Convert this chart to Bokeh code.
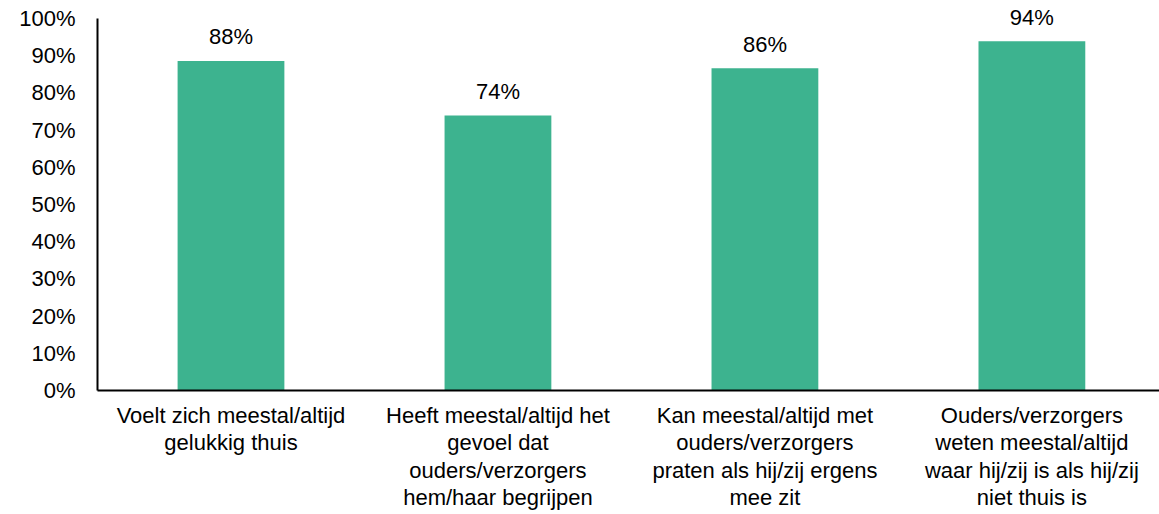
from bokeh.plotting import figure
from bokeh.models import ColumnDataSource, Range1d, FixedTicker, NumeralTickFormatter
from bokeh.embed import file_html
from bokeh.resources import INLINE
from bokeh.core.properties import value

categories = [
    "Voelt zich meestal/altijd\ngelukkig thuis",
    "Heeft meestal/altijd het\ngevoel dat\nouders/verzorgers\nhem/haar begrijpen",
    "Kan meestal/altijd met\nouders/verzorgers\npraten als hij/zij ergens\nmee zit",
    "Ouders/verzorgers\nweten meestal/altijd\nwaar hij/zij is als hij/zij\nniet thuis is",
]
values = [0.886, 0.739, 0.866, 0.939]
value_labels = ["88%", "74%", "86%", "94%"]
y_ticks = [i / 10 for i in range(11)]

FONT = "Liberation Sans"
COLOR = "#3DB38F"

xs = [i + 0.5 for i in range(len(categories))]
src = ColumnDataSource(dict(x=xs, top=values, lab=value_labels))

p = figure(width=1159, height=514, output_backend="svg", toolbar_location=None,
           x_range=Range1d(0, 3.978), y_range=Range1d(0, 1.0484),
           min_border_left=97, min_border_top=0, min_border_right=0, min_border_bottom=124)

p.vbar(x="x", top="top", width=0.4, source=src, fill_color=COLOR, line_color=None)
p.text(x="x", y="top", text="lab", source=src, text_align="center", text_baseline="alphabetic",
       y_offset=-24, text_font=value(FONT), text_font_size="22px", text_color="#000000")

p.outline_line_color = None
p.xgrid.grid_line_color = None
p.ygrid.grid_line_color = None
p.background_fill_color = "white"
p.border_fill_color = "white"

p.yaxis.ticker = FixedTicker(ticks=y_ticks)
p.yaxis.formatter = NumeralTickFormatter(format="0%")
p.yaxis.bounds = (0, 1)
p.xaxis.ticker = FixedTicker(ticks=xs)
p.xaxis.major_label_overrides = {x: c for x, c in zip(xs, categories)}

for ax in (p.xaxis[0], p.yaxis[0]):
    ax.axis_line_color = "black"
    ax.axis_line_width = 2
    ax.major_tick_line_color = None
    ax.minor_tick_line_color = None
    ax.major_tick_out = 0
    ax.major_tick_in = 0
    ax.major_label_text_font = FONT
    ax.major_label_text_font_size = "22px"
    ax.major_label_text_color = "#000000"

p.yaxis.major_label_standoff = 22
p.xaxis.major_label_standoff = 12
p.xaxis.major_label_text_line_height = 1.1

open("out.html", "w").write(file_html(p, INLINE))
